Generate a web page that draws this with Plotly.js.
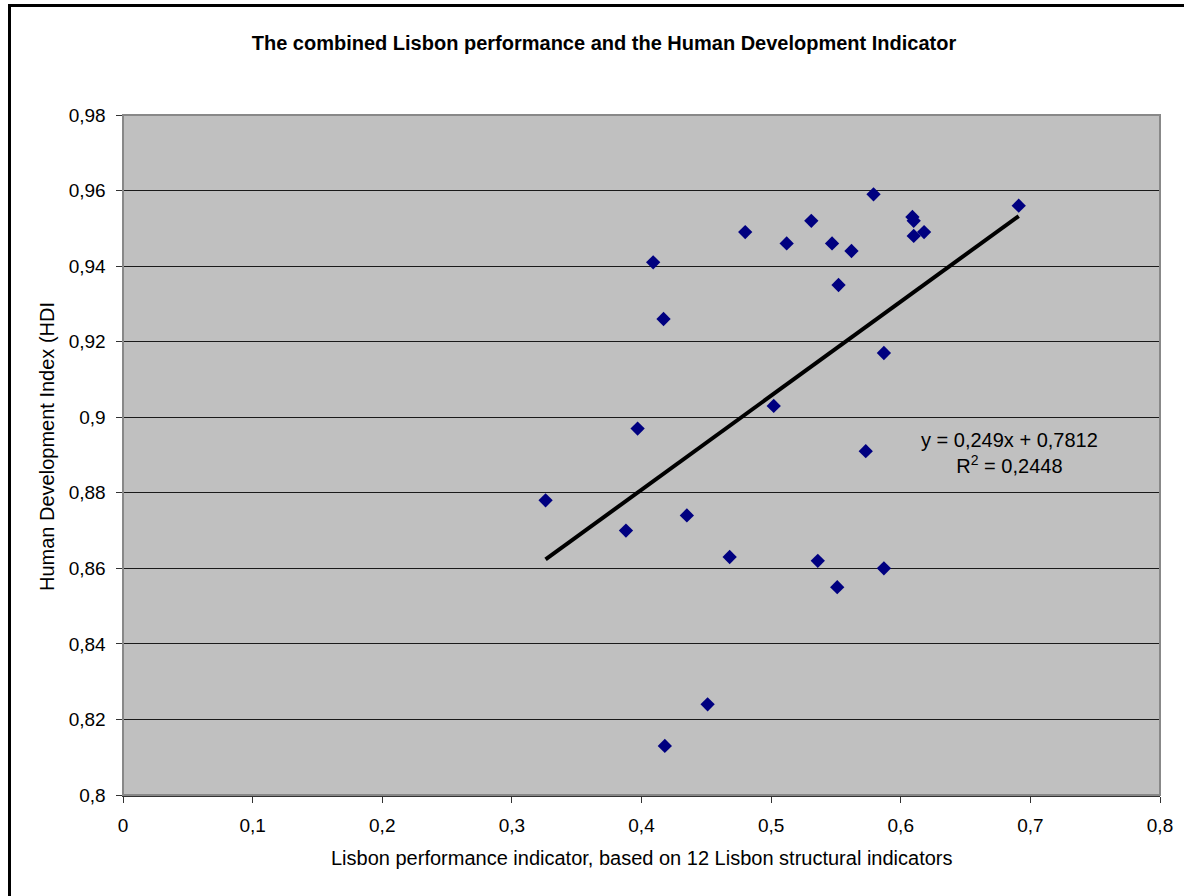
<!DOCTYPE html>
<html>
<head>
<meta charset="utf-8">
<script src="https://cdn.plot.ly/plotly-3.0.1.min.js"></script>
<style>
html,body{margin:0;padding:0;background:#fff;}
#chart{width:1184px;height:896px;}
</style>
</head>
<body>
<div id="chart"></div>
<script>
// Lisbon performance indicator (x) and Human Development Index (y)
var lisbon = [0.326, 0.388, 0.397, 0.409, 0.417, 0.418, 0.435, 0.451, 0.468, 0.480,
              0.502, 0.512, 0.531, 0.536, 0.547, 0.551, 0.552, 0.562, 0.573, 0.579,
              0.587, 0.587, 0.609, 0.610, 0.610, 0.618, 0.691];
var hdi    = [0.878, 0.870, 0.897, 0.941, 0.926, 0.813, 0.874, 0.824, 0.863, 0.949,
              0.903, 0.946, 0.952, 0.862, 0.946, 0.855, 0.935, 0.944, 0.891, 0.959,
              0.917, 0.860, 0.953, 0.952, 0.948, 0.949, 0.956];
var trendSlope = 0.249;
var trendIntercept = 0.7812;
var rSquared = "0,2448";
var xTicks = [0, 0.1, 0.2, 0.3, 0.4, 0.5, 0.6, 0.7, 0.8];
var yTicks = [0.8, 0.82, 0.84, 0.86, 0.88, 0.9, 0.92, 0.94, 0.96, 0.98];

var xMin = Math.min.apply(null, lisbon), xMax = Math.max.apply(null, lisbon);
var trendX = [xMin, xMax];
var trendY = trendX.map(function(v){ return trendSlope * v + trendIntercept; });

var FONT = "Liberation Sans, Arial, sans-serif";

var traces = [
  {x: trendX, y: trendY, type: 'scatter', mode: 'lines',
   line: {color: '#000000', width: 4}, hoverinfo: 'skip', showlegend: false},
  {x: lisbon, y: hdi, type: 'scatter', mode: 'markers',
   marker: {symbol: 'diamond', size: 11, color: '#000080', line: {width: 0}},
   showlegend: false}
];

var layout = {
  width: 1184, height: 896,
  margin: {l: 123, r: 24, t: 115, b: 101},
  paper_bgcolor: '#ffffff',
  plot_bgcolor: '#c0c0c0',
  separators: ', ',
  font: {family: FONT, size: 19, color: '#000000'},
  showlegend: false,
  title: {text: '<b>The combined Lisbon performance and the Human Development Indicator</b>',
          font: {family: FONT, size: 20, color: '#000'},
          xref: 'container', yref: 'container', x: 604/1184, y: 1 - 43/896,
          xanchor: 'center', yanchor: 'middle'},
  xaxis: {range: [0, 0.8], tickvals: xTicks, showgrid: false, zeroline: false,
          showline: true, linecolor: '#333333', linewidth: 1.5,
          ticks: 'outside', ticklen: 6, tickcolor: '#333333', tickwidth: 1,
          ticklabelstandoff: 7,
          tickfont: {family: FONT, size: 19}, fixedrange: true},
  yaxis: {range: [0.8, 0.98], tickvals: yTicks, showgrid: true, gridcolor: '#1a1a1a', gridwidth: 1,
          zeroline: false, showline: true, linecolor: '#333333', linewidth: 1.5,
          ticks: 'outside', ticklen: 6, tickcolor: '#333333', tickwidth: 1,
          ticklabelstandoff: 6,
          tickfont: {family: FONT, size: 19}, fixedrange: true},
  shapes: [
    {type: 'rect', xref: 'paper', yref: 'paper', x0: 0, x1: 1, y0: 0, y1: 1,
     line: {color: '#888888', width: 2}, fillcolor: 'rgba(0,0,0,0)', layer: 'above'},
    {type: 'rect', xref: 'paper', yref: 'paper',
     x0: -(123 - 9.5) / 1037, x1: (1210 - 123) / 1037,
     y0: -(920 - 795) / 680, y1: 1 + (115 - 5.5) / 680,
     line: {color: '#000000', width: 3}, fillcolor: 'rgba(0,0,0,0)'}
  ],
  annotations: [
    {text: 'Lisbon performance indicator, based on 12 Lisbon structural indicators',
     xref: 'paper', yref: 'paper', x: 0.5, y: -(858 - 795) / 680,
     xanchor: 'center', yanchor: 'middle', showarrow: false,
     font: {family: FONT, size: 20}},
    {text: 'Human Development Index (HDI',
     xref: 'paper', yref: 'paper', x: -(123 - 47) / 1037, y: (795 - 447) / 680,
     xanchor: 'center', yanchor: 'middle', textangle: -90, showarrow: false,
     font: {family: FONT, size: 20}},
    {text: 'y = 0,249x + 0,7812<br>R<sup>2</sup> = ' + rSquared,
     xref: 'paper', yref: 'paper', x: (1009 - 123) / 1037, y: (795 - 453) / 680,
     xanchor: 'center', yanchor: 'middle', align: 'center', showarrow: false,
     font: {family: FONT, size: 20}}
  ]
};

Plotly.newPlot('chart', traces, layout, {displayModeBar: false, staticPlot: true});
</script>
</body>
</html>
